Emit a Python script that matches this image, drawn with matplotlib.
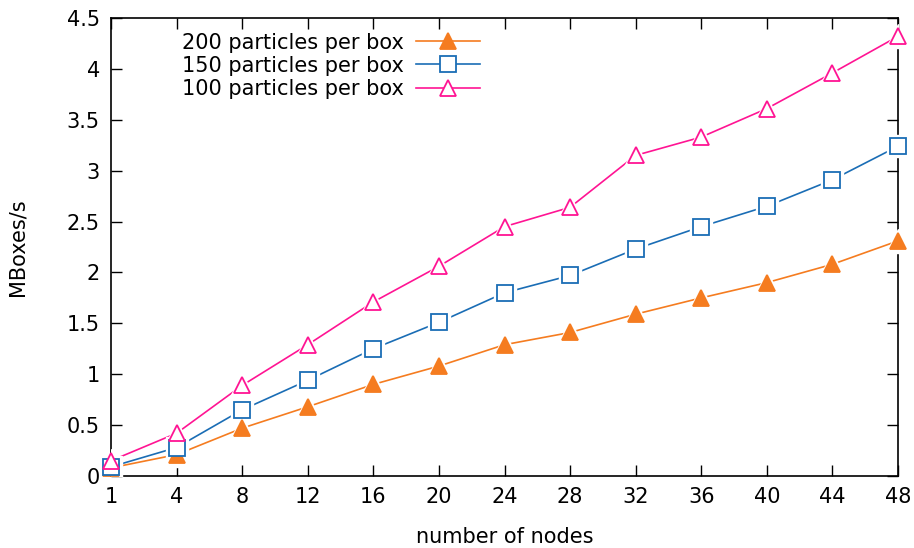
import matplotlib
matplotlib.use("Agg")
import matplotlib.pyplot as plt
import numpy as np

nodes = [1, 4, 8, 12, 16, 20, 24, 28, 32, 36, 40, 44, 48]
p200 = [0.08, 0.21, 0.47, 0.68, 0.90, 1.08, 1.29, 1.41, 1.59, 1.75, 1.90, 2.08, 2.31]
p150 = [0.09, 0.28, 0.65, 0.94, 1.25, 1.51, 1.80, 1.97, 2.23, 2.45, 2.65, 2.91, 3.24]
p100 = [0.15, 0.42, 0.89, 1.29, 1.71, 2.06, 2.45, 2.64, 3.15, 3.33, 3.61, 3.96, 4.32]
yticks = [0, 0.5, 1, 1.5, 2, 2.5, 3, 3.5, 4, 4.5]

plt.rcParams['font.family'] = 'DejaVu Sans'
plt.rcParams['font.size'] = 15

fig = plt.figure(figsize=(9.14, 5.48), dpi=100)
ax = fig.add_axes([111/914, 1 - 476/548, (898-111)/914, (476-18)/548])

x = np.arange(len(nodes))
series = [
    ('200 particles per box', p200, '#f57c20', '^', True, 12),
    ('150 particles per box', p150, '#1a6db5', 's', False, 11),
    ('100 particles per box', p100, '#ff1493', '^', False, 12),
]
handles = []
for label, vals, col, mk, filled, ms in series:
    ax.plot(x, vals, color=col, lw=1.2, zorder=2)
    # white halo so the line stops short of each marker
    ax.plot(x, vals, ls='none', marker=mk, ms=ms + 5, mfc='white', mec='white', zorder=3)
    ax.plot(x, vals, ls='none', marker=mk, ms=ms, mfc=col if filled else 'white',
            mec=col, mew=1.3, zorder=4, clip_on=False)
    h, = ax.plot([], [], color=col, lw=1.2, marker=mk, ms=ms,
                 mfc=col if filled else 'white', mec=col, mew=1.3)
    handles.append((h, label))

ax.set_xlim(0, len(nodes) - 1)
ax.set_ylim(0, 4.5)
ax.set_xticks(x)
ax.set_xticklabels([str(n) for n in nodes])
ax.set_yticks(yticks)
ax.set_yticklabels(['%g' % v for v in yticks])
ax.tick_params(direction='in', top=True, right=True, length=8, width=1, pad=8)
for s in ax.spines.values():
    s.set_linewidth(1.2)

ax.set_xlabel('number of nodes', labelpad=14)
ax.set_ylabel('MBoxes/s', labelpad=28)

leg = ax.legend([h for h, _ in handles], [l for _, l in handles], loc='upper right',
                bbox_to_anchor=(0.488, 1.0), frameon=False, markerfirst=False,
                handlelength=3.1, handletextpad=0.6, labelspacing=0.15, borderaxespad=0.3)

fig.savefig('out.png', dpi=100)
